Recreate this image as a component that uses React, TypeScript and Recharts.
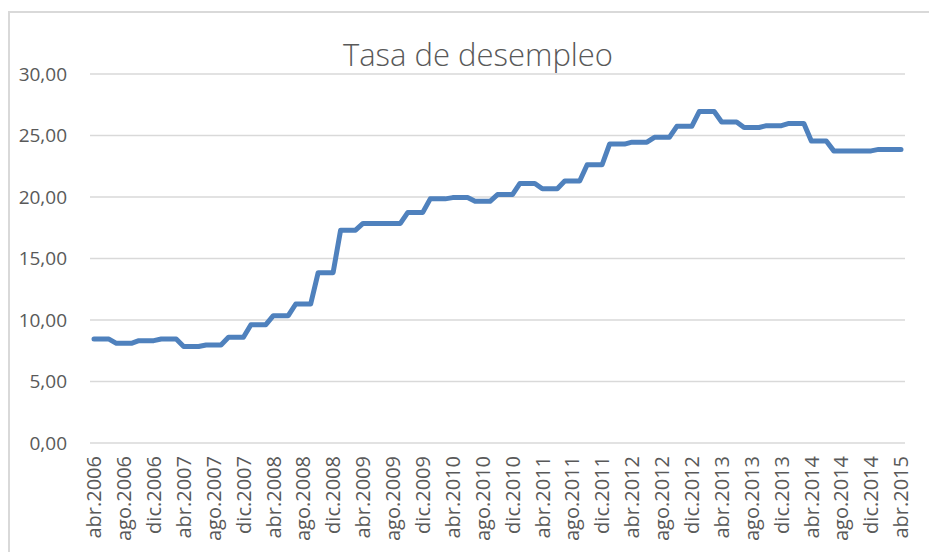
import * as React from 'react';
import { LineChart, Line, XAxis, YAxis, CartesianGrid } from 'recharts';

// quarterly unemployment rate, each value held for the 3 months of its quarter
// (Q2 2006 ... Q1 2015), plus the single April 2015 point
const quarterValues = [
    8.45, 8.1, 8.32, 8.45, 7.85, 7.97, 8.6, 9.62, 10.35, 11.3,
    13.85, 17.3, 17.85, 17.85, 18.75, 19.85, 19.95, 19.65, 20.2, 21.1,
    20.67, 21.3, 22.62, 24.3, 24.46, 24.85, 25.75, 26.95, 26.1, 25.65,
    25.8, 25.98, 24.55, 23.75, 23.75, 23.87,
];
const lastValue = 23.87;

const monthNames = ['ene', 'feb', 'mar', 'abr', 'may', 'jun', 'jul', 'ago', 'sep', 'oct', 'nov', 'dic'];
const startYear = 2006;
const startMonth = 3; // abril

const yTicks = [0, 5, 10, 15, 20, 25, 30];

const monthlyValues: number[] = [];
quarterValues.forEach((v) => {
    monthlyValues.push(v, v, v);
});
monthlyValues.push(lastValue);

const data = monthlyValues.map((v, i) => {
    const m = startMonth + i;
    const label = monthNames[m % 12] + '.' + (startYear + Math.floor(m / 12));
    return { mes: label, tasa: v };
});

const FONT = '"Open Sans", sans-serif';
const TEXT = '#595959';

const XTick = (props: any) => {
    const { x, y, payload } = props;
    return (
        <g transform={`translate(${x},${y})`}>
            <text
                x={-13}
                y={0}
                dy="0.36em"
                transform="rotate(-90)"
                textAnchor="end"
                fill={TEXT}
                fontSize={20}
                fontFamily={FONT}
            >
                {payload.value}
            </text>
        </g>
    );
};

export default function App() {
    return (
        <div style={{ position: 'relative', width: 929, height: 544 }}>
            <div
                style={{
                    position: 'absolute',
                    left: 0,
                    top: 3,
                    width: 929,
                    height: 541,
                    borderTop: '2px solid #d9d9d9',
                    borderLeft: '2px solid #d9d9d9',
                    boxSizing: 'border-box',
                }}
            />
            <div
                style={{
                    position: 'absolute',
                    left: 0,
                    top: 31,
                    width: 940,
                    textAlign: 'center',
                    fontFamily: FONT,
                    fontWeight: 300,
                    fontSize: 31,
                    lineHeight: '31px',
                    color: TEXT,
                }}
            >
                Tasa de desempleo
            </div>
            <LineChart
                width={929}
                height={544}
                data={data}
                margin={{ top: 66, right: 32, bottom: 9, left: 0 }}
                style={{ position: 'absolute', left: 0, top: 0 }}
            >
                <CartesianGrid vertical={false} stroke="#d9d9d9" strokeWidth={1.5} />
                <XAxis
                    dataKey="mes"
                    interval={3}
                    height={100}
                    axisLine={false}
                    tickLine={false}
                    tickSize={0}
                    tickMargin={0}
                    padding={{ left: 4, right: 4 }}
                    tick={<XTick />}
                />
                <YAxis
                    width={82}
                    domain={[0, 30]}
                    ticks={yTicks}
                    axisLine={false}
                    tickLine={false}
                    tickSize={0}
                    tickMargin={23}
                    tick={{ fill: TEXT, fontSize: 19, fontFamily: FONT }}
                    tickFormatter={(v: number) => v.toFixed(2).replace('.', ',')}
                />
                <Line
                    type="linear"
                    dataKey="tasa"
                    stroke="#4f81bd"
                    strokeWidth={5}
                    dot={false}
                    strokeLinejoin="round"
                    strokeLinecap="round"
                    isAnimationActive={false}
                />
            </LineChart>
        </div>
    );
}
